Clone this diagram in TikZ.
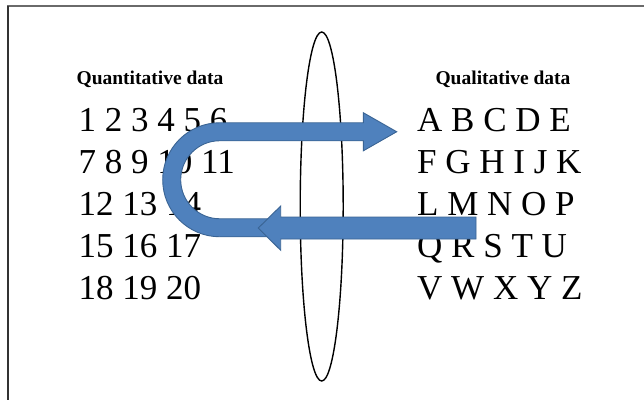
\documentclass[tikz,border=0pt]{standalone}
\usepackage{fontspec}
\setmainfont{Liberation Serif}
\usetikzlibrary{shapes.geometric}
\definecolor{arrowfill}{HTML}{4F81BD}
\definecolor{arrowline}{HTML}{3A6494}
\definecolor{framegray}{HTML}{6A6A6A}
\begin{document}
\begin{tikzpicture}[x=1pt,y=-1pt,
  rowtext/.style={anchor=base west,inner sep=0pt,font=\fontsize{35}{40}\selectfont},
  titletext/.style={anchor=base,inner sep=0pt,font=\fontsize{19.5}{22}\selectfont\bfseries},
  bluearrow/.style={fill=arrowfill,draw=arrowline,line width=0.9pt,line join=miter}]
\useasboundingbox (0,0) rectangle (644,400);
\fill[white] (0,0) rectangle (644,400);
% frame
\draw[framegray,line width=2pt] (7,6) -- (644,6);
\draw[black!80,line width=2pt] (7.5,6) -- (7.5,400);
% titles
\node[titletext] (qt) at (150,84) {Quantitative data};
\node[titletext] (ql) at (503,84) {Qualitative data};
% numbers
\node[rowtext] (n1) at (78.5,131.7) {1 2 3 4 5 6};
\node[rowtext] (n2) at (78.5,173.5) {7 8 9 10 11};
\node[rowtext] (n3) at (78.5,215.5) {12 13 14};
\node[rowtext] (n4) at (78.5,257.5) {15 16 17};
\node[rowtext] (n5) at (78.5,299.5) {18 19 20};
% letters
\node[rowtext] (l1) at (417,131.7) {A B C D E};
\node[rowtext] (l2) at (417,173.5) {F G H I J K};
\node[rowtext] (l3) at (417,215.5) {L M N O P};
\node[rowtext] (l4) at (417,257.5) {Q R S T U};
\node[rowtext] (l5) at (417,299.5) {V W X Y Z};
% ellipse
\node[draw=black,line width=1.4pt,ellipse,inner sep=0pt,
  minimum width=43pt,minimum height=349pt] (ell) at (321.7,206.5) {};
% U-turn arrow
\draw[bluearrow] (268,236.75) -- (219.7,236.75)
  arc[start angle=90,end angle=270,radius=57]
  -- (363.3,122.75) -- (363.3,112.7) -- (396.7,131.75) -- (363.3,150.8)
  -- (363.3,140.75) -- (219.7,140.75)
  arc[start angle=270,end angle=90,radius=39]
  -- (268,218.75) -- cycle;
% lower arrow
\draw[bluearrow] (476,217) -- (280.7,217) -- (280.7,206) -- (258.3,228)
  -- (280.7,250.3) -- (280.7,239) -- (476,239) -- cycle;
\end{tikzpicture}
\end{document}
